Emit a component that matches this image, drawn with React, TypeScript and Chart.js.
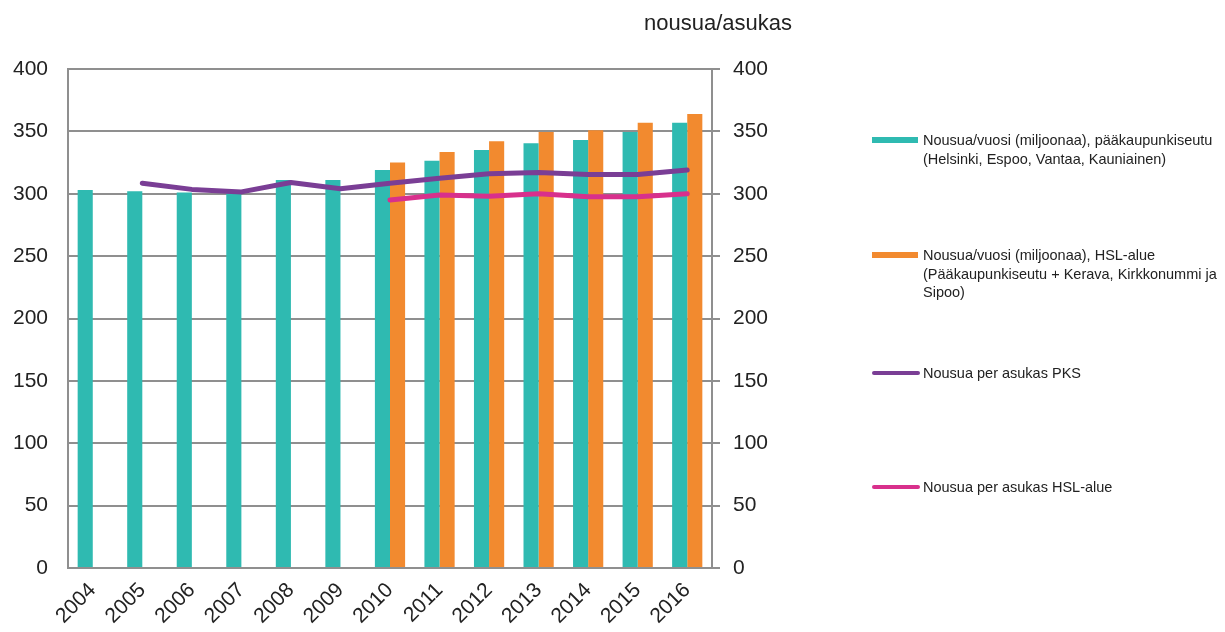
import React, { useEffect, useRef } from "react";
import { Chart, registerables } from "chart.js";

Chart.register(...registerables);

const years = ["2004", "2005", "2006", "2007", "2008", "2009", "2010", "2011", "2012", "2013", "2014", "2015", "2016"];
const pksTrips = [303, 302, 301, 300.5, 311, 311, 319, 326.5, 335, 340.5, 343, 349.5, 357];
const hslTrips = [null, null, null, null, null, null, 325, 333.5, 342, 349.5, 351, 357, 364];
const pksPerCapita = [null, 308.5, 303.5, 301.5, 309, 304, 308.5, 312.5, 316, 317, 315.5, 315.5, 319];
const hslPerCapita = [null, null, null, null, null, null, 295, 299, 298, 300, 297.5, 297.5, 300];
const axisTicks = [0, 50, 100, 150, 200, 250, 300, 350, 400];

const rightAxisTitle = "nousua/asukas";
const legendLines = [
  ["Nousua/vuosi (miljoonaa), pääkaupunkiseutu", "(Helsinki, Espoo, Vantaa, Kauniainen)"],
  ["Nousua/vuosi (miljoonaa), HSL-alue", "(Pääkaupunkiseutu + Kerava, Kirkkonummi ja", "Sipoo)"],
  ["Nousua per asukas PKS"],
  ["Nousua per asukas HSL-alue"],
];

const COLORS = ["#2fbab1", "#f28a2f", "#7a3e95", "#d8308c"];
const GRID = "#8f8f8f";
const FONT = "'Liberation Sans', Arial, sans-serif";

const legendTops = [140, 255, 373, 487];

export default function App() {
  const ref = useRef<HTMLCanvasElement | null>(null);

  useEffect(() => {
    if (!ref.current) return;
    const chart = new Chart(ref.current, {
      type: "bar",
      data: {
        labels: years,
        datasets: [
          {
            type: "line",
            label: legendLines[2].join(" "),
            data: pksPerCapita,
            yAxisID: "y1",
            borderColor: COLORS[2],
            backgroundColor: COLORS[2],
            borderWidth: 5,
            pointRadius: 0,
            tension: 0,
            borderCapStyle: "round",
            borderJoinStyle: "round",
            order: 0,
          } as any,
          {
            type: "line",
            label: legendLines[3].join(" "),
            data: hslPerCapita,
            yAxisID: "y1",
            borderColor: COLORS[3],
            backgroundColor: COLORS[3],
            borderWidth: 5,
            pointRadius: 0,
            tension: 0,
            borderCapStyle: "round",
            borderJoinStyle: "round",
            order: 0,
          } as any,
          {
            type: "bar",
            label: legendLines[0].join(" "),
            data: pksTrips,
            yAxisID: "y",
            backgroundColor: COLORS[0],
            categoryPercentage: 0.61,
            barPercentage: 1,
            order: 1,
          } as any,
          {
            type: "bar",
            label: legendLines[1].join(" "),
            data: hslTrips,
            yAxisID: "y",
            backgroundColor: COLORS[1],
            categoryPercentage: 0.61,
            barPercentage: 1,
            order: 1,
          } as any,
        ],
      },
      options: {
        responsive: false,
        animation: false,
        devicePixelRatio: 1,
        layout: { padding: { left: 0, right: 1225 - 712 - 80, top: 69, bottom: 0 } },
        plugins: { legend: { display: false }, tooltip: { enabled: false }, title: { display: false } },
        scales: {
          x: {
            grid: { display: false, drawTicks: false },
            border: { display: true, color: GRID, width: 2 },
            ticks: {
              font: { family: FONT, size: 21 },
              color: "#222",
              minRotation: 45,
              maxRotation: 45,
              padding: 10,
            },
            afterFit: (s: any) => {
              s.height = 632 - 568;
            },
          },
          y: {
            position: "left",
            min: 0,
            max: 400,
            afterBuildTicks: (s: any) => {
              s.ticks = axisTicks.map((v) => ({ value: v }));
            },
            grid: { color: GRID, lineWidth: 2, drawTicks: false },
            border: { display: true, color: GRID, width: 2 },
            ticks: { font: { family: FONT, size: 21 }, color: "#222", padding: 20 },
            afterFit: (s: any) => {
              s.width = 68;
            },
          },
          y1: {
            position: "right",
            min: 0,
            max: 400,
            afterBuildTicks: (s: any) => {
              s.ticks = axisTicks.map((v) => ({ value: v }));
            },
            grid: { drawOnChartArea: false, color: GRID, lineWidth: 2, drawTicks: true, tickLength: 8 },
            border: { display: true, color: GRID, width: 2 },
            ticks: { font: { family: FONT, size: 21 }, color: "#222", padding: 13 },
            afterFit: (s: any) => {
              s.width = 80;
            },
          },
        },
      },
    });
    return () => chart.destroy();
  }, []);

  return (
    <div style={{ position: "absolute", left: 0, top: 0, width: 1225, height: 632, background: "#fff", fontFamily: FONT }}>
      <canvas ref={ref} width={1225} height={632} style={{ position: "absolute", left: 0, top: 0 }} />
      <div
        style={{
          position: "absolute",
          left: 618,
          top: 10,
          width: 200,
          textAlign: "center",
          fontSize: 22,
          lineHeight: "26px",
          color: "#222",
        }}
      >
        {rightAxisTitle}
      </div>
      {legendLines.map((lines, i) => (
        <div key={i} style={{ position: "absolute", left: 872, top: legendTops[i] - 9, width: 350 }}>
          <div
            style={{
              position: "absolute",
              left: 0,
              top: i < 2 ? 6 : 7,
              width: i < 2 ? 46 : 48,
              height: i < 2 ? 6 : 4,
              borderRadius: i < 2 ? 0 : 2,
              background: COLORS[i],
            }}
          />
          <div style={{ position: "absolute", left: 51, top: 0, fontSize: 14.5, lineHeight: "18.5px", color: "#222", whiteSpace: "nowrap" }}>
            {lines.map((l, j) => (
              <div key={j}>{l}</div>
            ))}
          </div>
        </div>
      ))}
    </div>
  );
}
